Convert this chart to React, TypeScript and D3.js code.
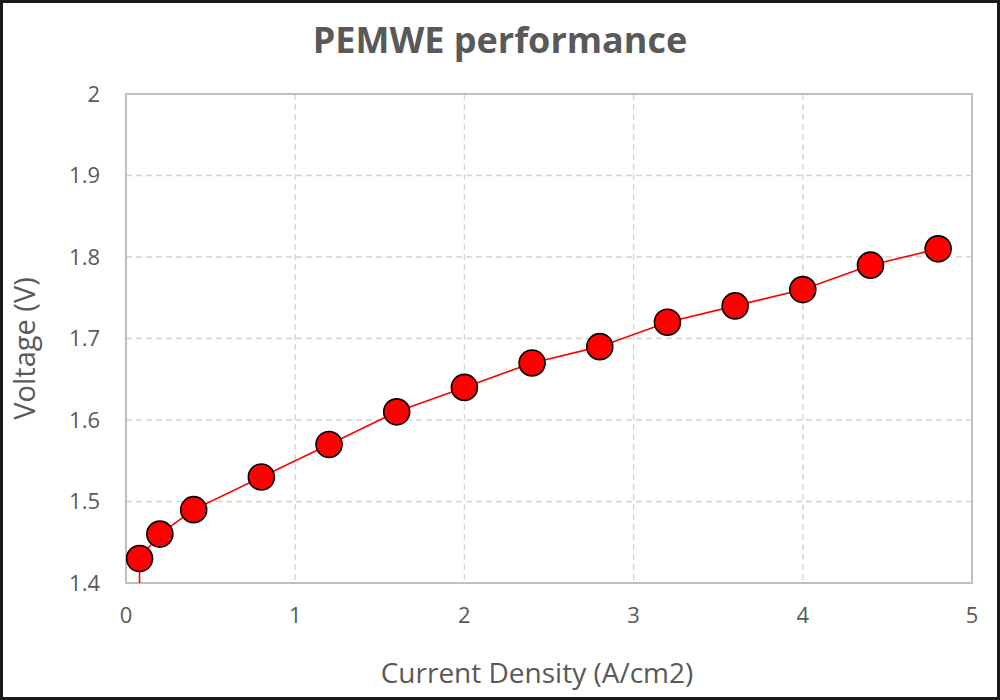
import { useEffect } from 'react'
import * as d3 from 'd3'

const currentDensity = [0.08, 0.08, 0.2, 0.4, 0.8, 1.2, 1.6, 2.0, 2.4, 2.8, 3.2, 3.6, 4.0, 4.4, 4.8]
const voltage = [1.3, 1.43, 1.46, 1.49, 1.53, 1.57, 1.61, 1.64, 1.67, 1.69, 1.72, 1.74, 1.76, 1.79, 1.81]
const xTicks = [0, 1, 2, 3, 4, 5]
const yTicks = [1.4, 1.5, 1.6, 1.7, 1.8, 1.9, 2]

const width = 1000
const height = 700
const margin = { top: 94, right: 28, bottom: 117, left: 126 }
const font = '"Open Sans", sans-serif'
const textColor = '#595959'

export default function App() {
  useEffect(() => {
    document.body.style.margin = '0'
  }, [])

  const innerWidth = width - margin.left - margin.right
  const innerHeight = height - margin.top - margin.bottom

  const x = d3.scaleLinear().domain([0, 5]).range([0, innerWidth])
  const y = d3.scaleLinear().domain([1.4, 2]).range([innerHeight, 0])

  const points = currentDensity.map((c, i) => ({ c, v: voltage[i] }))
  const line = d3
    .line<{ c: number; v: number }>()
    .x((d) => x(d.c))
    .y((d) => y(d.v))

  return (
    <svg width={width} height={height} style={{ display: 'block' }}>
      <rect x={0} y={0} width={width} height={height} fill="#ffffff" />
      <rect x={1.5} y={1.5} width={width - 3} height={height - 3} fill="none" stroke="#1a1a1a" strokeWidth={3} />
      <text
        x={width / 2}
        y={53}
        textAnchor="middle"
        fontFamily={font}
        fontWeight="bold"
        fontSize={36}
        fill={textColor}
      >
        PEMWE performance
      </text>
      <defs>
        <clipPath id="plot-clip">
          <rect x={0} y={0} width={innerWidth} height={innerHeight} />
        </clipPath>
      </defs>
      <g transform={`translate(${margin.left},${margin.top})`}>
        {xTicks.slice(1, -1).map((t) => (
          <line key={`gx${t}`} x1={x(t)} x2={x(t)} y1={0} y2={innerHeight} stroke="#d4d4d4" strokeWidth={1.3} strokeDasharray="6,4" />
        ))}
        {yTicks.slice(1, -1).map((t) => (
          <line key={`gy${t}`} x1={0} x2={innerWidth} y1={y(t)} y2={y(t)} stroke="#d4d4d4" strokeWidth={1.3} strokeDasharray="6,4" />
        ))}
        <rect x={0} y={0} width={innerWidth} height={innerHeight} fill="none" stroke="#bfbfbf" strokeWidth={2} />
        <g clipPath="url(#plot-clip)">
          <path d={line(points) ?? ''} fill="none" stroke="#ff0000" strokeWidth={1.6} />
          {points.map((d, i) => (
            <circle key={i} cx={x(d.c)} cy={y(d.v)} r={13} fill="#ff0000" stroke="#000000" strokeWidth={1.6} />
          ))}
        </g>
        <g fontFamily={font} fontSize={22} fill={textColor}>
          {yTicks.map((t) => (
            <text key={`ty${t}`} x={-26} y={y(t)} dy="0.35em" textAnchor="end">
              {d3.format('~g')(t)}
            </text>
          ))}
          {xTicks.map((t) => (
            <text key={`tx${t}`} x={x(t)} y={innerHeight + 40} textAnchor="middle">
              {t}
            </text>
          ))}
        </g>
        <text
          x={innerWidth / 2 - 12}
          y={innerHeight + 100}
          textAnchor="middle"
          fontFamily={font}
          fontSize={28}
          fill={textColor}
        >
          Current Density (A/cm2)
        </text>
        <text
          transform={`translate(${-91},${innerHeight / 2 + 10}) rotate(-90)`}
          textAnchor="middle"
          fontFamily={font}
          fontSize={29}
          fill={textColor}
        >
          Voltage (V)
        </text>
      </g>
    </svg>
  )
}
